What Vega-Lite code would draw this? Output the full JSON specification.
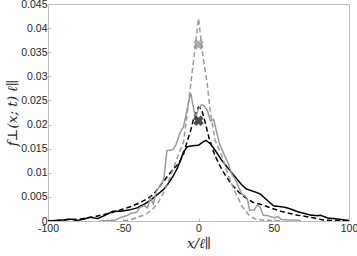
{
  "$schema": "https://vega.github.io/schema/vega-lite/v6.json",
  "width": 301,
  "height": 217,
  "autosize": {"type": "none"},
  "padding": {"left": 48, "top": 4, "right": 8, "bottom": 35},
  "background": "white",
  "config": {
    "view": {"stroke": "#bdbdbd", "strokeWidth": 1},
    "axis": {
      "grid": false,
      "domain": false,
      "tickColor": "#bdbdbd",
      "tickSize": -3,
      "labelColor": "#262626",
      "labelFont": "Liberation Sans",
      "labelFontSize": 10.5,
      "titleFont": "DejaVu Serif",
      "titleFontStyle": "italic",
      "titleFontWeight": "normal",
      "titleFontSize": 13.5,
      "titleColor": "#262626"
    }
  },
  "datasets": {
    "curves": [
      {"s": "a", "x": -100, "y": 0}, {"s": "a", "x": -95, "y": 0.0001}, {"s": "a", "x": -90, "y": 0.0002}, {"s": "a", "x": -85, "y": 0.0004}, {"s": "a", "x": -81, "y": 0.0001}, {"s": "a", "x": -76, "y": 0.0004}, {"s": "a", "x": -72, "y": 0.0008}, {"s": "a", "x": -67, "y": 0.0005}, {"s": "a", "x": -62, "y": 0.0012}, {"s": "a", "x": -57, "y": 0.002}, {"s": "a", "x": -52, "y": 0.002}, {"s": "a", "x": -46, "y": 0.0023}, {"s": "a", "x": -41, "y": 0.0027}, {"s": "a", "x": -36, "y": 0.0035}, {"s": "a", "x": -32, "y": 0.0043}, {"s": "a", "x": -28, "y": 0.0053}, {"s": "a", "x": -23, "y": 0.0066}, {"s": "a", "x": -20, "y": 0.0078}, {"s": "a", "x": -16.7, "y": 0.0094}, {"s": "a", "x": -14, "y": 0.011}, {"s": "a", "x": -12, "y": 0.0126}, {"s": "a", "x": -10, "y": 0.0143}, {"s": "a", "x": -7.5, "y": 0.0154}, {"s": "a", "x": -4, "y": 0.0156}, {"s": "a", "x": 0, "y": 0.0157}, {"s": "a", "x": 3, "y": 0.0164}, {"s": "a", "x": 5, "y": 0.0167}, {"s": "a", "x": 8, "y": 0.016}, {"s": "a", "x": 11, "y": 0.0147}, {"s": "a", "x": 15, "y": 0.0128}, {"s": "a", "x": 20, "y": 0.0108}, {"s": "a", "x": 25, "y": 0.0089}, {"s": "a", "x": 29, "y": 0.0074}, {"s": "a", "x": 32, "y": 0.0066}, {"s": "a", "x": 37, "y": 0.0061}, {"s": "a", "x": 41, "y": 0.0056}, {"s": "a", "x": 46, "y": 0.0042}, {"s": "a", "x": 50, "y": 0.0031}, {"s": "a", "x": 54, "y": 0.003}, {"s": "a", "x": 58, "y": 0.0028}, {"s": "a", "x": 62, "y": 0.0024}, {"s": "a", "x": 66, "y": 0.0019}, {"s": "a", "x": 70, "y": 0.0016}, {"s": "a", "x": 75, "y": 0.0012}, {"s": "a", "x": 79, "y": 0.0011}, {"s": "a", "x": 81, "y": 0.0012}, {"s": "a", "x": 86, "y": 0.0006}, {"s": "a", "x": 90, "y": 0.0005}, {"s": "a", "x": 95, "y": 0.0003}, {"s": "a", "x": 100, "y": 0.0001},
      {"s": "b", "x": -100, "y": 0}, {"s": "b", "x": -90, "y": 0.0002}, {"s": "b", "x": -85, "y": 0.0004}, {"s": "b", "x": -80, "y": 0.0003}, {"s": "b", "x": -75, "y": 0.0006}, {"s": "b", "x": -70, "y": 0.0008}, {"s": "b", "x": -65, "y": 0.0012}, {"s": "b", "x": -59, "y": 0.0016}, {"s": "b", "x": -50, "y": 0.0025}, {"s": "b", "x": -45, "y": 0.003}, {"s": "b", "x": -39, "y": 0.0038}, {"s": "b", "x": -34, "y": 0.0046}, {"s": "b", "x": -30, "y": 0.0055}, {"s": "b", "x": -25, "y": 0.0075}, {"s": "b", "x": -20, "y": 0.0095}, {"s": "b", "x": -16.7, "y": 0.0108}, {"s": "b", "x": -13, "y": 0.012}, {"s": "b", "x": -10, "y": 0.0138}, {"s": "b", "x": -7, "y": 0.017}, {"s": "b", "x": -5, "y": 0.019}, {"s": "b", "x": -3, "y": 0.0215}, {"s": "b", "x": 0, "y": 0.0236}, {"s": "b", "x": 2, "y": 0.0232}, {"s": "b", "x": 4, "y": 0.021}, {"s": "b", "x": 7, "y": 0.0172}, {"s": "b", "x": 11, "y": 0.0135}, {"s": "b", "x": 15, "y": 0.011}, {"s": "b", "x": 18, "y": 0.0094}, {"s": "b", "x": 22, "y": 0.0076}, {"s": "b", "x": 27, "y": 0.0059}, {"s": "b", "x": 31, "y": 0.0049}, {"s": "b", "x": 36, "y": 0.0039}, {"s": "b", "x": 43, "y": 0.0033}, {"s": "b", "x": 49, "y": 0.0026}, {"s": "b", "x": 55, "y": 0.002}, {"s": "b", "x": 60, "y": 0.0016}, {"s": "b", "x": 66, "y": 0.0012}, {"s": "b", "x": 72, "y": 0.0009}, {"s": "b", "x": 77, "y": 0.0006}, {"s": "b", "x": 83, "y": 0.0002}, {"s": "b", "x": 90, "y": 0.0001}, {"s": "b", "x": 100, "y": 0},
      {"s": "c", "x": -66, "y": 0}, {"s": "c", "x": -60, "y": 0.0001}, {"s": "c", "x": -55, "y": 0.0002}, {"s": "c", "x": -52, "y": 0.0007}, {"s": "c", "x": -50, "y": 0.0009}, {"s": "c", "x": -47, "y": 0.0012}, {"s": "c", "x": -45, "y": 0.0016}, {"s": "c", "x": -41, "y": 0.0018}, {"s": "c", "x": -39, "y": 0.0028}, {"s": "c", "x": -36, "y": 0.0032}, {"s": "c", "x": -34, "y": 0.0027}, {"s": "c", "x": -32, "y": 0.0048}, {"s": "c", "x": -30, "y": 0.0035}, {"s": "c", "x": -28, "y": 0.0062}, {"s": "c", "x": -25, "y": 0.0075}, {"s": "c", "x": -23, "y": 0.0088}, {"s": "c", "x": -21, "y": 0.0146}, {"s": "c", "x": -17, "y": 0.0148}, {"s": "c", "x": -15, "y": 0.0158}, {"s": "c", "x": -12, "y": 0.0185}, {"s": "c", "x": -10, "y": 0.0195}, {"s": "c", "x": -8, "y": 0.0224}, {"s": "c", "x": -6, "y": 0.0255}, {"s": "c", "x": -5, "y": 0.0264}, {"s": "c", "x": -4, "y": 0.0245}, {"s": "c", "x": -2, "y": 0.0215}, {"s": "c", "x": 0, "y": 0.0232}, {"s": "c", "x": 2, "y": 0.0241}, {"s": "c", "x": 4, "y": 0.0238}, {"s": "c", "x": 6, "y": 0.0228}, {"s": "c", "x": 8, "y": 0.0207}, {"s": "c", "x": 10, "y": 0.0211}, {"s": "c", "x": 12, "y": 0.0185}, {"s": "c", "x": 14, "y": 0.016}, {"s": "c", "x": 17, "y": 0.0138}, {"s": "c", "x": 20, "y": 0.0118}, {"s": "c", "x": 22, "y": 0.0098}, {"s": "c", "x": 25, "y": 0.0083}, {"s": "c", "x": 27, "y": 0.0068}, {"s": "c", "x": 29, "y": 0.0055}, {"s": "c", "x": 31, "y": 0.0052}, {"s": "c", "x": 32.5, "y": 0.0045}, {"s": "c", "x": 34, "y": 0.0022}, {"s": "c", "x": 37, "y": 0.0023}, {"s": "c", "x": 39, "y": 0.0033}, {"s": "c", "x": 41, "y": 0.0028}, {"s": "c", "x": 43, "y": 0.0012}, {"s": "c", "x": 46, "y": 0.0011}, {"s": "c", "x": 50, "y": 0.0007}, {"s": "c", "x": 53, "y": 0.0009}, {"s": "c", "x": 55, "y": 0.0003}, {"s": "c", "x": 60, "y": 0.0002}, {"s": "c", "x": 65, "y": 0.0002}, {"s": "c", "x": 68, "y": 0.0001},
      {"s": "d", "x": -50, "y": 0}, {"s": "d", "x": -45, "y": 0.0003}, {"s": "d", "x": -40, "y": 0.0008}, {"s": "d", "x": -35, "y": 0.0014}, {"s": "d", "x": -30, "y": 0.0026}, {"s": "d", "x": -27, "y": 0.0037}, {"s": "d", "x": -23, "y": 0.006}, {"s": "d", "x": -20, "y": 0.0082}, {"s": "d", "x": -16, "y": 0.0115}, {"s": "d", "x": -13, "y": 0.014}, {"s": "d", "x": -10, "y": 0.0163}, {"s": "d", "x": -8, "y": 0.021}, {"s": "d", "x": -5.3, "y": 0.028}, {"s": "d", "x": -3, "y": 0.034}, {"s": "d", "x": 0, "y": 0.042}, {"s": "d", "x": 3, "y": 0.034}, {"s": "d", "x": 5.8, "y": 0.0285}, {"s": "d", "x": 8, "y": 0.0223}, {"s": "d", "x": 11, "y": 0.0168}, {"s": "d", "x": 15.8, "y": 0.0133}, {"s": "d", "x": 20, "y": 0.0092}, {"s": "d", "x": 24.7, "y": 0.0058}, {"s": "d", "x": 29, "y": 0.003}, {"s": "d", "x": 33.6, "y": 0.0012}, {"s": "d", "x": 37, "y": 0.0005}, {"s": "d", "x": 42, "y": 0.0002}, {"s": "d", "x": 50, "y": 0.0001}, {"s": "d", "x": 55, "y": 0}
    ],
    "marks": [
      {"s": "grey", "x": 0, "y": 0.0366},
      {"s": "black", "x": 0, "y": 0.0208}
    ]
  },
  "encoding": {
    "x": {"field": "x", "type": "quantitative", "scale": {"domain": [-100, 100], "nice": false},
      "axis": {"tickCount": 4, "title": "x/ℓ∥", "titlePadding": 3, "labelPadding": 5, "labelFlush": false, "labelOverlap": false, "labelExpr": "replace(format(datum.value, '~g'), '−', '-')"}},
    "y": {"field": "y", "type": "quantitative", "scale": {"domain": [0, 0.045], "nice": false},
      "axis": {"tickCount": 9, "labelOverlap": false, "labelFlush": false, "labelBound": false, "labelExpr": "format(datum.value, '~g')", "title": "f⊥(x; t) ℓ∥", "titlePadding": 1, "labelPadding": 4}}
  },
  "layer": [
    {
      "data": {"name": "curves"},
      "mark": {"type": "line", "strokeWidth": 1.5, "clip": true},
      "encoding": {
        "detail": {"field": "s"},
        "color": {"field": "s", "type": "nominal", "scale": {"domain": ["a", "b", "c", "d"], "range": ["#000000", "#000000", "#9a9a9a", "#9a9a9a"]}, "legend": null},
        "strokeDash": {"field": "s", "type": "nominal", "scale": {"domain": ["a", "b", "c", "d"], "range": [[1, 0], [5, 3], [1, 0], [5, 3]]}, "legend": null}
      }
    },
    {
      "data": {"name": "marks"},
      "mark": {"type": "point", "shape": "cross", "angle": 45, "filled": true, "size": 110},
      "encoding": {
        "color": {"field": "s", "type": "nominal", "scale": {"domain": ["grey", "black"], "range": ["#8c8c8c", "#000000"]}, "legend": null}
      }
    }
  ],
  "resolve": {"scale": {"color": "independent"}}
}
